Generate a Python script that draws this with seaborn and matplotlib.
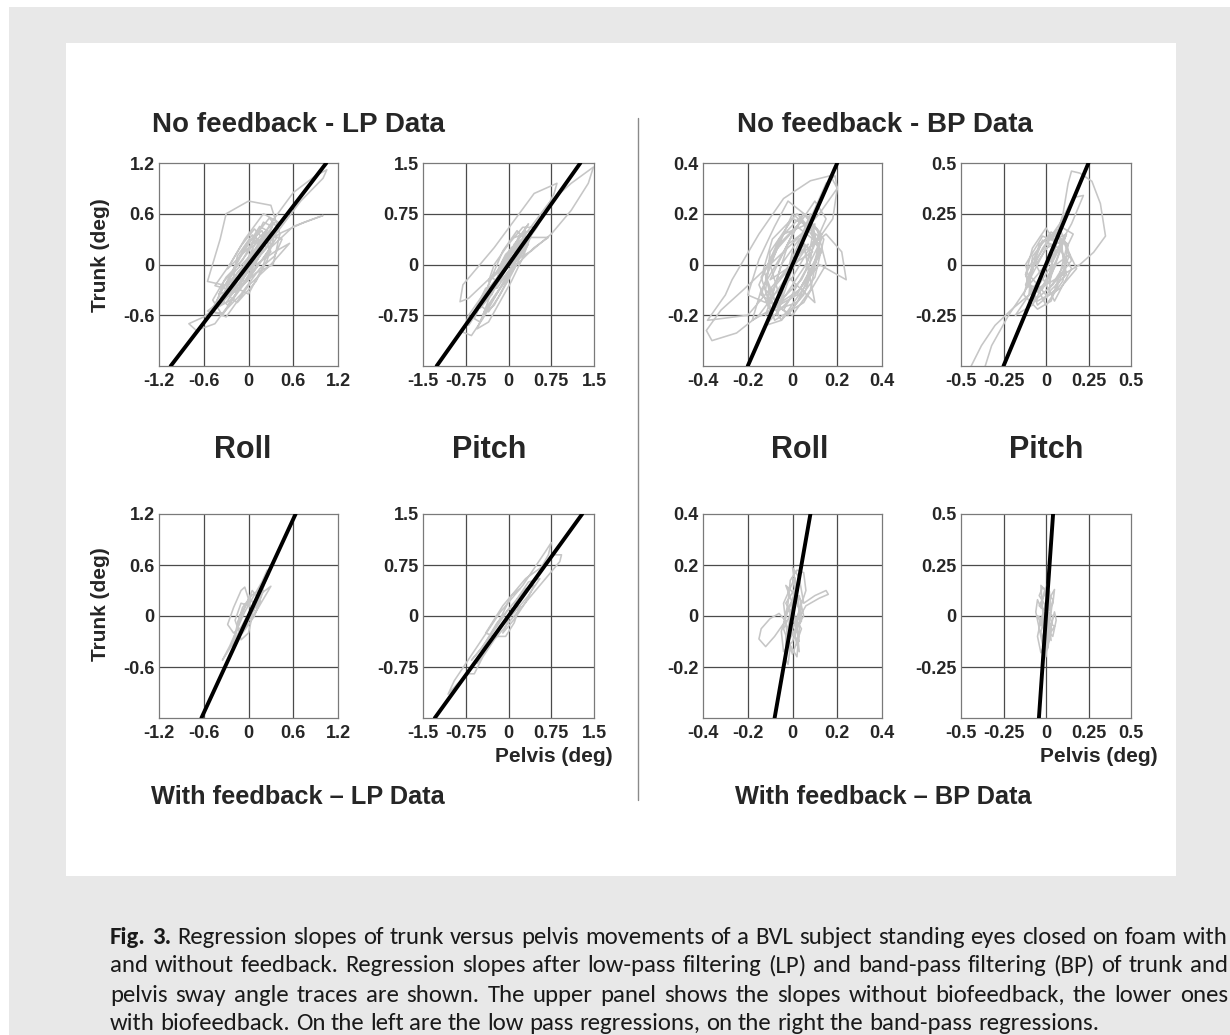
import numpy as np
import pandas as pd
import matplotlib
matplotlib.use("Agg")
import matplotlib.pyplot as plt
import seaborn as sns
from matplotlib.lines import Line2D
from matplotlib.patches import Rectangle
from matplotlib import font_manager

# ---------------- data ----------------
panel_keys = ["nf_lp_roll", "nf_lp_pitch", "nf_bp_roll", "nf_bp_pitch",
              "wf_lp_roll", "wf_lp_pitch", "wf_bp_roll", "wf_bp_pitch"]

lp_roll_ticks = [-1.2, -0.6, 0, 0.6, 1.2]
lp_roll_labels = ["-1.2", "-0.6", "0", "0.6", "1.2"]
lp_pitch_ticks = [-1.5, -0.75, 0, 0.75, 1.5]
lp_pitch_labels = ["-1.5", "-0.75", "0", "0.75", "1.5"]
bp_roll_ticks = [-0.4, -0.2, 0, 0.2, 0.4]
bp_roll_labels = ["-0.4", "-0.2", "0", "0.2", "0.4"]
bp_pitch_ticks = [-0.5, -0.25, 0, 0.25, 0.5]
bp_pitch_labels = ["-0.5", "-0.25", "0", "0.25", "0.5"]

# regression slopes (trunk vs pelvis)
slopes = [1.15, 1.19, 2.0, 2.0, 1.9, 1.16, 5.0, 12.0]

# gray sway traces (pelvis x, trunk y)
nf_lp_roll_x = [0.00, 0.20, 0.35, 0.60, 0.90, 1.05, 1.00, 0.70, 0.40, 0.15, -0.10, -0.35, -0.60, -0.80, -0.70,
                -0.45, -0.20, 0.05, 0.30, 0.60, 1.00, 0.75, 0.45, 0.20, -0.05, -0.30, -0.55, -0.38, -0.30, 0.00,
                0.30, 0.42, 0.33, 0.10, -0.15, -0.40, -0.55, -0.35, -0.10, 0.15, 0.35, 0.45, 0.30, 0.10, -0.15,
                -0.30, -0.15, 0.10, 0.25, 0.40, 0.20, -0.05, -0.25, -0.45, -0.25, 0.00, 0.25, 0.15, -0.10, -0.35,
                -0.50, -0.30, 0.00, 0.30, 0.55, 0.35, 0.10]
nf_lp_roll_y = [0.05, 0.35, 0.55, 0.85, 1.05, 1.12, 1.02, 0.75, 0.40, 0.10, -0.20, -0.45, -0.62, -0.70, -0.78,
                -0.70, -0.40, -0.10, 0.20, 0.45, 0.58, 0.50, 0.38, 0.25, 0.00, -0.25, -0.20, 0.30, 0.60, 0.75,
                0.70, 0.36, 0.00, -0.10, -0.30, -0.45, -0.55, -0.58, -0.35, -0.05, 0.10, 0.30, 0.35, 0.15, -0.10,
                -0.35, -0.45, -0.20, 0.05, 0.50, 0.60, 0.30, 0.00, -0.25, -0.30, 0.00, 0.40, 0.45, 0.10, -0.30,
                -0.55, -0.62, -0.25, 0.00, 0.25, 0.15, 0.00]
nf_lp_roll_core = [(0.05, 0.20), (0.22, 0.35), (0.12, 0.05), (-0.08, -0.05), (-0.25, -0.35), (-0.12, -0.10),
                   (0.08, 0.15), (0.28, 0.40), (0.38, 0.32), (0.18, 0.05), (-0.02, -0.20), (-0.20, -0.15),
                   (-0.38, -0.40), (-0.28, -0.48), (-0.05, -0.20), (0.15, 0.10), (0.32, 0.45), (0.20, 0.50),
                   (0.00, 0.15), (-0.18, -0.05), (-0.33, -0.20), (-0.45, -0.50), (-0.30, -0.45), (-0.10, -0.20),
                   (0.10, 0.05), (0.25, 0.20), (0.05, 0.35), (-0.15, 0.10), (-0.22, -0.25), (0.00, -0.35),
                   (0.18, -0.05), (0.30, 0.25), (0.12, 0.30), (-0.05, 0.00), (-0.20, -0.30), (-0.40, -0.35),
                   (-0.20, -0.10), (0.02, 0.10), (0.20, 0.30), (0.08, 0.42), (-0.10, 0.22), (-0.28, -0.05),
                   (0.35, 0.50), (0.15, 0.20), (-0.05, -0.10), (-0.25, -0.20), (-0.40, -0.50), (-0.20, -0.40),
                   (0.00, -0.05), (0.22, 0.25), (0.40, 0.42), (0.28, 0.55), (0.10, 0.35), (-0.08, 0.05),
                   (-0.30, -0.15), (-0.48, -0.42), (-0.35, -0.60), (-0.12, -0.28), (0.12, 0.00), (0.30, 0.15),
                   (0.18, 0.40), (-0.02, 0.25), (-0.18, 0.00), (-0.35, -0.40), (-0.15, -0.25), (0.05, 0.05)]

nf_lp_pitch_x = [0.00, 0.30, 0.70, 1.10, 1.49, 1.40, 1.10, 0.75, 0.40, 0.10, -0.20, -0.45, -0.70, -0.80, -0.65,
                 -0.45, -0.25, -0.05, 0.20, 0.50, 0.80, 0.85, 0.45, 0.10, -0.25, -0.55, -0.80, -0.85, -0.70,
                 -0.45, -0.20, 0.10, 0.40, 0.70, 0.45, 0.15, -0.15, -0.40, -0.55, -0.35, -0.15, 0.05, 0.25,
                 0.45, 0.25, 0.00, -0.25, -0.35, -0.10, 0.15, 0.35, 0.20, -0.05, -0.30, -0.50, -0.30, 0.00,
                 0.20, 0.35, 0.10, -0.15]
nf_lp_pitch_y = [0.10, 0.45, 0.90, 1.20, 1.44, 1.20, 0.80, 0.45, 0.20, 0.05, -0.20, -0.45, -0.75, -1.00, -1.05,
                 -0.80, -0.50, -0.20, 0.20, 0.55, 1.05, 1.20, 1.05, 0.65, 0.25, -0.05, -0.30, -0.55, -0.50,
                 -0.30, -0.10, 0.20, 0.40, 0.40, 0.25, 0.00, -0.35, -0.65, -0.95, -0.85, -0.55, -0.25, 0.10,
                 0.55, 0.55, 0.30, 0.00, -0.25, -0.05, 0.35, 0.60, 0.40, 0.10, -0.40, -0.65, -0.45, 0.00,
                 0.30, 0.35, 0.15, -0.20]
nf_lp_pitch_core = [(0.10, 0.30), (0.30, 0.50), (0.15, 0.10), (-0.05, -0.05), (-0.20, -0.10), (-0.05, 0.15),
                    (0.20, 0.35), (0.40, 0.45), (0.25, 0.20), (0.05, -0.05), (-0.15, -0.25), (-0.30, -0.20),
                    (-0.45, -0.50), (-0.60, -0.80), (-0.50, -0.85), (-0.30, -0.55), (-0.10, -0.30), (0.10, 0.00),
                    (0.30, 0.35), (0.15, 0.50), (-0.10, 0.20), (-0.35, -0.30), (-0.55, -0.70), (-0.70, -0.90),
                    (-0.60, -0.70), (-0.40, -0.35), (-0.20, -0.35), (0.00, -0.10), (0.25, 0.20), (0.40, 0.50),
                    (0.20, 0.45), (0.00, 0.05), (-0.20, -0.25), (-0.10, 0.05), (0.05, 0.25),
                    (0.25, 0.35), (0.05, 0.20), (-0.15, -0.10), (-0.30, -0.45), (-0.50, -0.60), (-0.35, -0.70),
                    (-0.15, -0.45), (0.05, -0.15), (0.20, 0.10), (0.35, 0.30), (0.15, 0.30), (-0.05, 0.00),
                    (-0.25, -0.30), (-0.45, -0.75), (-0.25, -0.60), (0.00, -0.20), (0.18, 0.15), (0.30, 0.45),
                    (0.10, 0.40)]

nf_bp_roll_x = [0.00, 0.05, 0.10, 0.15, 0.19, 0.20, 0.12, 0.02, -0.10, -0.22, -0.32, -0.385, -0.36, -0.25, -0.15,
                -0.05, 0.05, 0.15, 0.22, 0.24, 0.20, 0.12, 0.03, -0.08, -0.12, -0.05, 0.05, 0.12, 0.08, -0.02,
                -0.08, -0.15, -0.20, -0.12, 0.00, 0.10, 0.04, -0.06, -0.12, -0.08, 0.02, 0.09, 0.13, 0.05,
                -0.04, -0.14, -0.18, -0.06, 0.06, 0.15, 0.10, 0.00, -0.10, -0.03, 0.07, -0.20, -0.38, -0.30,
                -0.27, -0.15, -0.04, 0.08, 0.17, 0.20, 0.18, 0.10]
nf_bp_roll_y = [0.00, 0.12, 0.22, 0.32, 0.35, 0.30, 0.20, 0.10, 0.00, -0.10, -0.18, -0.26, -0.30, -0.27, -0.20,
                -0.08, 0.05, 0.12, 0.05, -0.06, -0.04, 0.00, -0.10, -0.20, -0.24, -0.22, -0.12, 0.05, 0.18,
                0.25, 0.15, 0.02, -0.12, -0.15, -0.05, 0.10, 0.17, 0.08, -0.05, -0.18, -0.15, -0.02, 0.12,
                0.20, 0.05, -0.10, -0.22, -0.16, 0.00, 0.18, 0.25, 0.12, -0.06, -0.02, 0.08, -0.20, -0.22,
                -0.12, -0.06, 0.12, 0.26, 0.33, 0.35, 0.30, 0.18, 0.08]
nf_bp_roll_core = [(0.08, 0.15), (0.12, 0.05), (0.02, -0.12), (-0.10, -0.18), (-0.15, -0.08), (-0.06, 0.10),
                   (0.05, 0.20), (0.14, 0.10), (0.10, -0.05), (-0.02, -0.20), (-0.12, -0.10), (-0.10, 0.05),
                   (0.00, 0.18), (0.11, 0.14), (0.15, 0.00), (0.05, -0.15), (-0.08, -0.22), (-0.14, -0.05),
                   (-0.04, 0.12), (0.07, 0.16), (0.13, 0.05), (0.03, -0.10), (-0.07, -0.16), (-0.13, -0.02),
                   (-0.09, 0.10), (0.02, 0.20), (0.10, 0.12), (0.06, -0.08), (-0.05, -0.22), (-0.11, -0.12),
                   (0.00, 0.00), (0.09, 0.05),
                   (0.03, 0.10), (-0.05, 0.00), (-0.10, -0.15), (0.00, -0.20), (0.08, -0.10), (0.12, 0.08),
                   (0.02, 0.15), (-0.08, 0.05), (-0.14, -0.12), (-0.04, -0.18), (0.06, -0.02), (0.10, 0.16),
                   (-0.02, 0.08), (-0.12, -0.20), (0.04, -0.06), (0.13, 0.10), (0.00, 0.20), (-0.10, 0.00),
                   (-0.06, -0.12), (0.05, 0.08), (0.10, -0.15), (-0.03, -0.04), (0.08, 0.20), (-0.07, -0.20),
                   (0.00, 0.05)]

nf_bp_pitch_x = [0.00, 0.05, 0.10, 0.13, 0.15, 0.20, 0.27, 0.32, 0.35, 0.28, 0.20, 0.10, 0.00, -0.10, -0.20,
                 -0.30, -0.38, -0.44, -0.45, -0.38, -0.32, -0.22, -0.10, 0.05, 0.15, 0.22, 0.16, 0.08, -0.02,
                 -0.10, -0.13, -0.05, 0.03, 0.08, 0.12, 0.16, 0.10, 0.02, -0.06, -0.11, -0.02, 0.06, 0.14,
                 0.18, 0.08, -0.05, -0.12, -0.08, 0.00, 0.06, 0.02, -0.08, -0.18, -0.10, 0.00, 0.10, 0.04]
nf_bp_pitch_y = [0.00, 0.10, 0.25, 0.40, 0.46, 0.45, 0.41, 0.30, 0.14, 0.06, 0.00, -0.05, -0.10, -0.15, -0.22,
                 -0.30, -0.40, -0.50, -0.56, -0.56, -0.40, -0.25, -0.10, 0.05, 0.20, 0.34, 0.33, 0.20, 0.08,
                 -0.05, -0.15, -0.22, -0.18, -0.05, 0.08, 0.15, 0.18, 0.12, 0.02, -0.10, -0.12, 0.00, 0.05,
                 -0.02, -0.12, -0.18, -0.05, 0.08, 0.18, 0.10, -0.05, -0.20, -0.25, -0.15, -0.02, 0.12, 0.15]
nf_bp_pitch_core = [(0.05, 0.12), (0.12, 0.15), (0.02, -0.02), (-0.08, -0.15), (-0.12, -0.05), (-0.03, 0.10),
                    (0.08, 0.18), (0.14, 0.05), (0.06, -0.12), (-0.05, -0.20), (-0.10, -0.08), (0.00, 0.08),
                    (0.10, 0.12), (0.15, 0.02), (0.04, -0.10), (-0.07, -0.18), (-0.12, 0.00), (-0.02, 0.14),
                    (0.09, 0.10), (0.12, -0.05), (0.00, -0.15), (-0.09, -0.06), (-0.04, 0.10), (0.07, 0.16),
                    (0.11, 0.00), (0.02, -0.12),
                    (0.04, 0.05), (-0.06, -0.10), (0.00, -0.20), (0.10, -0.08), (0.13, 0.10), (0.03, 0.16),
                    (-0.08, 0.04), (-0.10, -0.15), (0.02, -0.08), (0.12, 0.15), (0.06, 0.02), (-0.04, -0.14),
                    (-0.12, -0.10), (-0.02, 0.12), (0.08, 0.08), (0.15, -0.02), (0.05, -0.18), (-0.06, 0.00),
                    (0.02, 0.10)]

wf_lp_roll_x = [0.00, 0.10, 0.20, 0.28, 0.25, 0.18, 0.08, -0.05, -0.15, -0.25, -0.35, -0.30, -0.18, -0.08, 0.05,
                0.15, 0.30, 0.20, 0.10, -0.05, -0.20, -0.28, -0.20, -0.10, -0.05, 0.00, 0.05, 0.00, -0.10,
                -0.15, -0.08, 0.05, 0.15, 0.12, 0.00, -0.12, -0.18, -0.10, 0.02, 0.10, 0.16]
wf_lp_roll_y = [0.00, 0.20, 0.35, 0.50, 0.54, 0.40, 0.25, 0.05, -0.15, -0.35, -0.52, -0.45, -0.28, -0.10, 0.10,
                0.25, 0.35, 0.20, 0.05, -0.10, -0.20, -0.10, 0.10, 0.30, 0.34, 0.20, 0.00, -0.20, -0.28,
                -0.10, 0.10, 0.25, 0.30, 0.15, -0.05, -0.20, -0.05, 0.15, 0.12, 0.05, 0.18]
wf_lp_roll_core = [(0.05, 0.30), (-0.10, 0.00), (-0.20, -0.30), (-0.05, -0.15), (0.10, 0.15), (0.20, 0.30),
                   (0.08, 0.00), (-0.08, -0.20), (-0.22, -0.35), (-0.12, 0.00), (0.02, 0.20), (0.12, 0.10),
                   (0.22, 0.40), (0.05, 0.10)]

wf_lp_pitch_x = [0.00, 0.25, 0.50, 0.70, 0.75, 0.65, 0.45, 0.25, 0.05, -0.15, -0.35, -0.55, -0.75, -0.95, -1.06,
                 -0.90, -0.70, -0.60, -0.45, -0.25, -0.05, 0.15, 0.40, 0.65, 0.90, 0.93, 0.80, 0.55, 0.30,
                 0.10, -0.10, -0.25, -0.40, -0.25, -0.05, 0.10, 0.20, 0.00, -0.20, -0.50, -0.65, -0.45, -0.20,
                 0.05, 0.30, 0.45, 0.30, 0.10, -0.10]
wf_lp_pitch_y = [0.00, 0.30, 0.60, 0.90, 1.08, 0.95, 0.70, 0.45, 0.25, 0.05, -0.20, -0.45, -0.70, -0.95, -1.15,
                 -1.00, -0.85, -0.85, -0.60, -0.35, -0.15, 0.05, 0.30, 0.55, 0.80, 0.90, 0.90, 0.70, 0.55,
                 0.35, 0.15, -0.05, -0.25, -0.30, -0.30, -0.10, 0.15, 0.10, -0.15, -0.50, -0.65, -0.45, -0.10,
                 0.15, 0.40, 0.45, 0.20, -0.05, -0.25]
wf_lp_pitch_core = [(0.15, 0.25), (0.35, 0.50), (0.55, 0.55), (0.35, 0.30), (0.10, 0.05), (-0.15, -0.15),
                    (-0.35, -0.45), (-0.55, -0.70), (-0.40, -0.40), (-0.15, -0.05), (0.05, 0.30), (0.20, 0.40)]

wf_bp_roll_x = [0.00, 0.02, 0.00, 0.03, 0.05, 0.10, 0.15, 0.16, 0.12, 0.06, 0.02, -0.03, -0.03, -0.02, -0.01,
                -0.03, -0.06, -0.10, -0.14, -0.15, -0.12, -0.08, -0.04, -0.02, -0.01, 0.02, 0.05, 0.06, 0.03,
                0.01, 0.03, 0.02, -0.02, 0.01, 0.04, 0.00, -0.04, -0.05, -0.02, 0.00]
wf_bp_roll_y = [0.00, 0.10, 0.19, 0.15, 0.05, 0.08, 0.10, 0.085, 0.07, 0.04, -0.02, -0.08, -0.17, -0.19, -0.12,
                -0.02, 0.01, -0.01, -0.05, -0.09, -0.12, -0.08, -0.03, 0.05, 0.14, 0.18, 0.17, 0.10, 0.02,
                -0.08, -0.14, -0.05, 0.03, 0.08, 0.00, -0.10, -0.14, -0.06, 0.02, 0.06]
wf_bp_roll_core = [(0.02, 0.12), (-0.03, 0.05), (0.04, -0.05), (0.00, -0.15), (-0.04, -0.05), (0.03, 0.08),
                   (0.05, 0.00), (-0.02, -0.10), (-0.04, 0.05), (0.01, 0.15), (0.04, -0.02), (-0.01, -0.08),
                   (0.01, 0.10), (-0.02, -0.05), (0.03, -0.10), (0.00, 0.05), (-0.03, 0.12), (0.04, 0.06),
                   (0.02, -0.16), (-0.02, -0.10), (0.03, 0.02), (0.00, 0.15)]

wf_bp_pitch_x = [0.00, 0.02, 0.01, -0.01, -0.03, -0.05, -0.06, -0.04, -0.02, -0.01, 0.01, 0.03, 0.05, 0.06, 0.04,
                 0.02, 0.00, 0.03, 0.05, 0.04, 0.01, -0.03, -0.05, -0.03, 0.00, 0.02, -0.01, -0.04, -0.02,
                 0.02, 0.03, 0.00, -0.02]
wf_bp_pitch_y = [0.00, 0.08, 0.16, 0.12, 0.04, 0.08, 0.02, -0.06, -0.14, -0.21, -0.15, -0.05, 0.02, -0.02, -0.10,
                 -0.08, 0.00, 0.10, 0.13, 0.06, 0.02, -0.02, -0.10, -0.18, -0.12, -0.02, 0.06, 0.10, 0.14,
                 0.12, 0.03, -0.05, 0.00]
wf_bp_pitch_core = [(0.03, 0.05), (-0.04, -0.05), (0.02, 0.12), (-0.02, -0.15), (0.05, -0.05), (-0.05, 0.00),
                    (0.01, -0.10), (0.04, 0.08), (-0.03, 0.15), (0.00, -0.20),
                    (0.02, 0.10), (-0.03, -0.08), (0.01, -0.16), (0.04, 0.00), (-0.04, 0.05), (0.00, 0.12),
                    (0.03, -0.12), (-0.02, -0.02)]

traces = {
    "nf_lp_roll": (nf_lp_roll_x, nf_lp_roll_y, nf_lp_roll_core),
    "nf_lp_pitch": (nf_lp_pitch_x, nf_lp_pitch_y, nf_lp_pitch_core),
    "nf_bp_roll": (nf_bp_roll_x, nf_bp_roll_y, nf_bp_roll_core),
    "nf_bp_pitch": (nf_bp_pitch_x, nf_bp_pitch_y, nf_bp_pitch_core),
    "wf_lp_roll": (wf_lp_roll_x, wf_lp_roll_y, wf_lp_roll_core),
    "wf_lp_pitch": (wf_lp_pitch_x, wf_lp_pitch_y, wf_lp_pitch_core),
    "wf_bp_roll": (wf_bp_roll_x, wf_bp_roll_y, wf_bp_roll_core),
    "wf_bp_pitch": (wf_bp_pitch_x, wf_bp_pitch_y, wf_bp_pitch_core),
}
axis_specs = {
    "nf_lp_roll": (lp_roll_ticks, lp_roll_labels),
    "nf_lp_pitch": (lp_pitch_ticks, lp_pitch_labels),
    "nf_bp_roll": (bp_roll_ticks, bp_roll_labels),
    "nf_bp_pitch": (bp_pitch_ticks, bp_pitch_labels),
    "wf_lp_roll": (lp_roll_ticks, lp_roll_labels),
    "wf_lp_pitch": (lp_pitch_ticks, lp_pitch_labels),
    "wf_bp_roll": (bp_roll_ticks, bp_roll_labels),
    "wf_bp_pitch": (bp_pitch_ticks, bp_pitch_labels),
}

caption_lines = [
    "Regression slopes of trunk versus pelvis movements of a BVL subject standing eyes closed on foam with",
    "and without feedback. Regression slopes after low-pass filtering (LP) and band-pass filtering (BP) of trunk and",
    "pelvis sway angle traces are shown. The upper panel shows the slopes without biofeedback, the lower ones",
    "with biofeedback. On the left are the low pass regressions, on the right the band-pass regressions.",
]
caption_lead = "Fig. 3."

# ---------------- style ----------------
sns.set_style("white")
plt.rcParams["font.family"] = ["Liberation Sans", "DejaVu Sans"]

W, H = 1230, 1035
fig = plt.figure(figsize=(W / 100, H / 100), dpi=100)
fig.patch.set_facecolor("white")


def fx(x):
    return x / W


def fy(y):
    return 1 - y / H


# page background
fig.add_artist(Rectangle((fx(9), 0), 1 - fx(9), fy(7), transform=fig.transFigure,
                         facecolor="#e8e8e8", edgecolor="none", zorder=-10))
fig.add_artist(Rectangle((fx(66), fy(876)), fx(1176) - fx(66), fy(43) - fy(876),
                         transform=fig.transFigure, facecolor="white", edgecolor="none", zorder=-9))

col_px = [(159, 338), (423, 594), (703, 882), (961, 1131)]
row_px = [(163, 366), (514, 718)]

rows = []
for k in panel_keys:
    xs, ys, core = traces[k]
    px_ = list(xs) + [p[0] for p in core]
    py_ = list(ys) + [p[1] for p in core]
    rows.append(pd.DataFrame({"panel": k, "pelvis": px_, "trunk": py_, "step": np.arange(len(px_))}))
df = pd.concat(rows, ignore_index=True)

TICK_FS = 13
for i, k in enumerate(panel_keys):
    r, c = divmod(i, 4)
    (l, rgt), (t, b) = col_px[c], row_px[r]
    ax = fig.add_axes([fx(l), fy(b), fx(rgt) - fx(l), fy(t) - fy(b)])
    ticks, labels = axis_specs[k]
    lo, hi = ticks[0], ticks[-1]
    for v in ticks[1:-1]:
        ax.axvline(v, color="#4a4a4a", lw=0.9, zorder=0.5)
        ax.axhline(v, color="#4a4a4a", lw=0.9, zorder=0.5)
    sub = df[df["panel"] == k]
    sns.lineplot(data=sub, x="pelvis", y="trunk", sort=False, estimator=None,
                 color="#c6c6c6", lw=1.15, ax=ax, zorder=2)
    ax.axline((0, 0), slope=slopes[i], color="black", lw=2.8, zorder=3)
    ax.set_xlim(lo, hi)
    ax.set_ylim(lo, hi)
    ax.set_xticks(ticks)
    ax.set_xticklabels(labels, fontsize=TICK_FS, fontweight="bold")
    ax.set_yticks(ticks[1:])
    ax.set_yticklabels(labels[1:], fontsize=TICK_FS, fontweight="bold")
    ax.tick_params(axis="x", length=0, pad=5)
    ax.tick_params(axis="y", length=0, pad=3)
    ax.set_xlabel("")
    ax.set_ylabel("")
    for s in ax.spines.values():
        s.set_color("#7a7a7a")
        s.set_linewidth(0.9)
        s.set_visible(True)
    ax.set_facecolor("white")

# titles and labels
fig.text(fx(298), fy(125), "No feedback - LP Data", ha="center", va="center", fontsize=20, fontweight="bold")
fig.text(fx(885), fy(125), "No feedback - BP Data", ha="center", va="center", fontsize=20, fontweight="bold")
fig.text(fx(298), fy(797), "With feedback \u2013 LP Data", ha="center", va="center", fontsize=18.3, fontweight="bold")
fig.text(fx(883), fy(797), "With feedback \u2013 BP Data", ha="center", va="center", fontsize=18.3, fontweight="bold")
for xc, txt in [(243, "Roll"), (489, "Pitch"), (800, "Roll"), (1046, "Pitch")]:
    fig.text(fx(xc), fy(450), txt, ha="center", va="center", fontsize=22, fontweight="bold")
for yc in (255, 604):
    fig.text(fx(100), fy(yc), "Trunk (deg)", ha="center", va="center", rotation=90, fontsize=15, fontweight="bold")
for xr in (613, 1158):
    fig.text(fx(xr), fy(757), "Pelvis (deg)", ha="right", va="center", fontsize=15, fontweight="bold")

fig.add_artist(Line2D([fx(638), fx(638)], [fy(118), fy(800)], transform=fig.transFigure,
                      color="#8a8a8a", lw=1.0))

# ---------------- caption (justified) ----------------
names = {f.name for f in font_manager.fontManager.ttflist}
cap_font = "Lato"
for cand in ["Carlito", "Liberation Sans Narrow", "Lato", "Open Sans"]:
    if cand in names:
        cap_font = cand
        break

renderer = fig.canvas.get_renderer()


def measure(s, fs, weight="normal"):
    t = fig.text(0, 0, s, fontsize=fs, family=cap_font, fontweight=weight)
    w = t.get_window_extent(renderer).width
    t.remove()
    return w


left_px, right_px = 110, 1228
target = right_px - left_px
line_words = []
for j, line in enumerate(caption_lines):
    words = [(w, "normal") for w in line.split(" ")]
    if j == 0:
        words = [(w, "bold") for w in caption_lead.split(" ")] + words
    line_words.append(words)


def natural(words, fs):
    sp = measure("a a", fs) - measure("aa", fs)
    return sum(measure(w, fs, wt) for w, wt in words) + (len(words) - 1) * sp


fs = 16.0
for _ in range(3):
    widest = max(natural(words, fs) for words in line_words[:3])
    fs = fs * target * 0.99 / widest

space = measure("a a", fs) - measure("aa", fs)
ys = [937, 966, 995, 1024]
for j, words in enumerate(line_words):
    widths = [measure(w, fs, wt) for w, wt in words]
    if j < 3:
        gap = (target - sum(widths)) / (len(words) - 1)
    else:
        gap = space
    x = left_px
    for (w, wt), wd in zip(words, widths):
        fig.text(fx(x), fy(ys[j]), w, fontsize=fs, family=cap_font, fontweight=wt,
                 ha="left", va="center", color="#1a1a1a")
        x += wd + gap

fig.savefig("out.png", dpi=100, facecolor=fig.get_facecolor())
